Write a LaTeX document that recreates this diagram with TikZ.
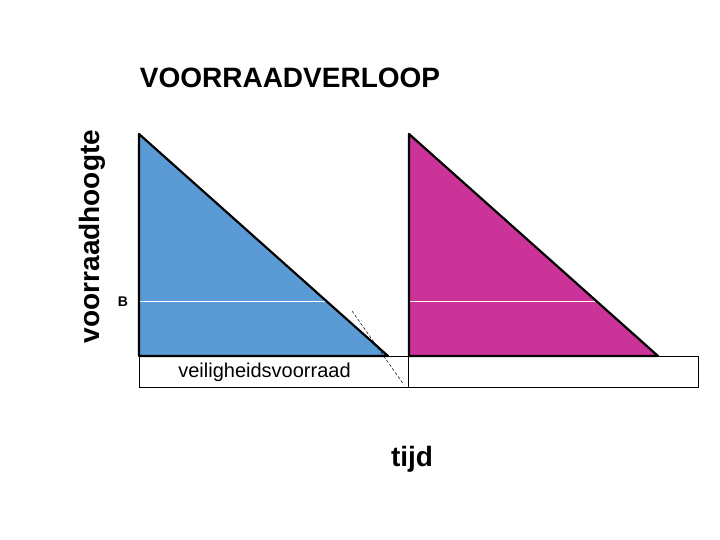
\documentclass[tikz,border=0pt]{standalone}
\usepackage{fontspec}
\setmainfont{Liberation Sans}
\definecolor{triblue}{HTML}{5B9BD5}
\definecolor{tripink}{HTML}{CC3399}
\tikzset{
  tri/.style={draw=black, line width=2.2pt, line join=round},
  bline/.style={white, line width=0.8pt},
  sbox/.style={draw=black, line width=0.8pt, fill=white},
  bigtxt/.style={font=\fontsize{28}{32}\selectfont\bfseries, inner sep=0pt},
}
\begin{document}
\begin{tikzpicture}[x=1pt,y=-1pt]
\useasboundingbox (0,0) rectangle (720,540);
% safety stock boxes
\draw[sbox] (139,356) rectangle (408,387);
\draw[sbox] (408,356) rectangle (698,387);
% triangles
\fill[triblue] (139,134) -- (139,356) -- (388,356) -- cycle;
\fill[tripink] (409,134) -- (409,356) -- (658,356) -- cycle;
% B level lines
\draw[bline] (139,301) -- (327,301);
\draw[bline] (409,301) -- (597,301);
\draw[tri] (139,134) -- (139,356) -- (388,356) -- cycle;
\draw[tri] (409,134) -- (409,356) -- (658,356) -- cycle;
% dashed line
\coordinate (d1) at (352,311);
\coordinate (d2) at (404,385);
\draw[black, line width=0.5pt, dash pattern=on 3pt off 2pt] (d1) -- (d2);
% texts
\node[bigtxt] (title) at (290,78) {VOORRAADVERLOOP};
\node[bigtxt, rotate=90] (ylab) at (92,236.5) {voorraadhoogte};
\node[font=\fontsize{14}{16}\selectfont\bfseries, inner sep=0pt] (B) at (123,302) {B};
\node[font=\fontsize{20}{24}\selectfont, inner sep=0pt] (vv) at (264.5,372) {veiligheidsvoorraad};
\node[bigtxt] (tijd) at (412,459) {tijd};
\end{tikzpicture}
\end{document}
